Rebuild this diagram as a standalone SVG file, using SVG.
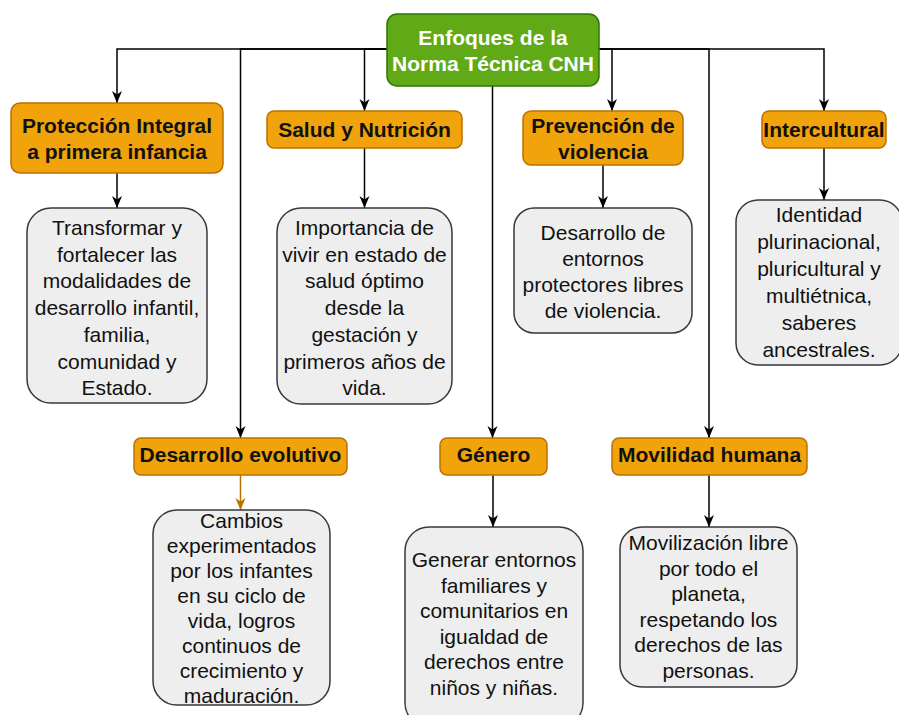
<svg xmlns="http://www.w3.org/2000/svg" width="899" height="715" viewBox="0 0 899 715">
<defs>
<style>
.root{fill:#60a917;stroke:#2d7600;stroke-width:1.5}
.cat{fill:#f0a30a;stroke:#bd7000;stroke-width:1.5}
.desc{fill:#eeeeee;stroke:#36393d;stroke-width:1.5}
.t{font-family:"Liberation Sans",Arial,Helvetica,sans-serif;font-size:21px;text-anchor:middle}
.b{font-weight:bold}
.w{fill:#ffffff}
.k{fill:#111111}
.e{fill:none;stroke:#000000;stroke-width:1.5}
.eo{fill:none;stroke:#bd7000;stroke-width:1.5}
</style>
<marker id="ah" viewBox="0 0 12 12" refX="12" refY="6" markerWidth="12" markerHeight="12" markerUnits="userSpaceOnUse" orient="auto">
<path d="M0,1 L12,6 L0,11 L3.5,6 Z" fill="#000000"/>
</marker>
<marker id="aho" viewBox="0 0 12 12" refX="12" refY="6" markerWidth="12" markerHeight="12" markerUnits="userSpaceOnUse" orient="auto">
<path d="M0,1 L12,6 L0,11 L3.5,6 Z" fill="#bd7000"/>
</marker>
</defs>
<rect width="899" height="715" fill="#ffffff"/>
<g id="connectors">
<path class="e" marker-end="url(#ah)" d="M387,49 H117 V103"/>
<path class="e" marker-end="url(#ah)" d="M387,49 H240.5 V438"/>
<path class="e" marker-end="url(#ah)" d="M387,49 H364.5 V111"/>
<path class="e" marker-end="url(#ah)" d="M492.5,86 V438"/>
<path class="e" marker-end="url(#ah)" d="M599,49 H612 V111"/>
<path class="e" marker-end="url(#ah)" d="M599,49 H709 V438"/>
<path class="e" marker-end="url(#ah)" d="M599,49 H824 V111"/>
<path class="e" marker-end="url(#ah)" d="M117,173 V208"/>
<path class="e" marker-end="url(#ah)" d="M364.5,148 V208"/>
<path class="e" marker-end="url(#ah)" d="M603,165 V208"/>
<path class="e" marker-end="url(#ah)" d="M824,148 V200"/>
<path class="eo" marker-end="url(#aho)" d="M240.5,475 V510"/>
<path class="e" marker-end="url(#ah)" d="M493,475 V527"/>
<path class="e" marker-end="url(#ah)" d="M709,475 V527"/>
</g>
<g id="root">
<rect class="root" x="387" y="14" width="212" height="72" rx="10"/>
<text class="t b w" x="493" y="44.5">Enfoques de la<tspan x="493" dy="26.5">Norma Técnica CNH</tspan></text>
</g>
<g id="proteccion">
<rect class="cat" x="11" y="103" width="212" height="70" rx="9"/>
<text class="t b k" x="117" y="132.5">Protección Integral<tspan x="117" dy="26">a primera infancia</tspan></text>
</g>
<g id="salud">
<rect class="cat" x="267" y="111" width="195" height="37" rx="7"/>
<text class="t b k" x="364.5" y="137">Salud y Nutrición</text>
</g>
<g id="prevencion">
<rect class="cat" x="523" y="111" width="160" height="54" rx="8"/>
<text class="t b k" x="603" y="132.5">Prevención de<tspan x="603" dy="26">violencia</tspan></text>
</g>
<g id="intercultural">
<rect class="cat" x="762" y="111" width="124" height="37" rx="7"/>
<text class="t b k" x="824" y="137">Intercultural</text>
</g>
<g id="desarrollo-evolutivo">
<rect class="cat" x="134" y="438" width="213" height="37" rx="7"/>
<text class="t b k" x="240.5" y="462">Desarrollo evolutivo</text>
</g>
<g id="genero">
<rect class="cat" x="440" y="438" width="107" height="37" rx="7"/>
<text class="t b k" x="493.5" y="462">Género</text>
</g>
<g id="movilidad">
<rect class="cat" x="612" y="438" width="195" height="37" rx="7"/>
<text class="t b k" x="709.5" y="462">Movilidad humana</text>
</g>
<g id="desc-proteccion">
<rect class="desc" x="27" y="208" width="180" height="195" rx="24"/>
<text class="t k" x="117" y="235">Transformar y<tspan x="117" dy="26.7">fortalecer las</tspan><tspan x="117" dy="26.7">modalidades de</tspan><tspan x="117" dy="26.7">desarrollo infantil,</tspan><tspan x="117" dy="26.7">familia,</tspan><tspan x="117" dy="26.7">comunidad y</tspan><tspan x="117" dy="26.7">Estado.</tspan></text>
</g>
<g id="desc-salud">
<rect class="desc" x="277" y="208" width="175" height="196" rx="24"/>
<text class="t k" x="364.5" y="235">Importancia de<tspan x="364.5" dy="26.7">vivir en estado de</tspan><tspan x="364.5" dy="26.7">salud óptimo</tspan><tspan x="364.5" dy="26.7">desde la</tspan><tspan x="364.5" dy="26.7">gestación y</tspan><tspan x="364.5" dy="26.7">primeros años de</tspan><tspan x="364.5" dy="26.7">vida.</tspan></text>
</g>
<g id="desc-prevencion">
<rect class="desc" x="514" y="208" width="178" height="125" rx="20"/>
<text class="t k" x="603" y="240">Desarrollo de<tspan x="603" dy="26">entornos</tspan><tspan x="603" dy="26">protectores libres</tspan><tspan x="603" dy="26">de violencia.</tspan></text>
</g>
<g id="desc-intercultural">
<rect class="desc" x="736" y="200" width="166" height="165" rx="22"/>
<text class="t k" x="819" y="222">Identidad<tspan x="819" dy="27">plurinacional,</tspan><tspan x="819" dy="27">pluricultural y</tspan><tspan x="819" dy="27">multiétnica,</tspan><tspan x="819" dy="27">saberes</tspan><tspan x="819" dy="27">ancestrales.</tspan></text>
</g>
<g id="desc-desarrollo">
<rect class="desc" x="153" y="510" width="177" height="195" rx="24"/>
<text class="t k" x="241.5" y="528">Cambios<tspan x="241.5" dy="25">experimentados</tspan><tspan x="241.5" dy="25">por los infantes</tspan><tspan x="241.5" dy="25">en su ciclo de</tspan><tspan x="241.5" dy="25">vida, logros</tspan><tspan x="241.5" dy="25">continuos de</tspan><tspan x="241.5" dy="25">crecimiento y</tspan><tspan x="241.5" dy="25">maduración.</tspan></text>
</g>
<g id="desc-genero">
<rect class="desc" x="405" y="527" width="178" height="200" rx="24"/>
<text class="t k" x="494" y="567">Generar entornos<tspan x="494" dy="25.6">familiares y</tspan><tspan x="494" dy="25.6">comunitarios en</tspan><tspan x="494" dy="25.6">igualdad de</tspan><tspan x="494" dy="25.6">derechos entre</tspan><tspan x="494" dy="25.6">niños y niñas.</tspan></text>
</g>
<g id="desc-movilidad">
<rect class="desc" x="620" y="527" width="177" height="160" rx="22"/>
<text class="t k" x="708.5" y="550">Movilización libre<tspan x="708.5" dy="25.5">por todo el</tspan><tspan x="708.5" dy="25.5">planeta,</tspan><tspan x="708.5" dy="25.5">respetando los</tspan><tspan x="708.5" dy="25.5">derechos de las</tspan><tspan x="708.5" dy="25.5">personas.</tspan></text>
</g>
</svg>
